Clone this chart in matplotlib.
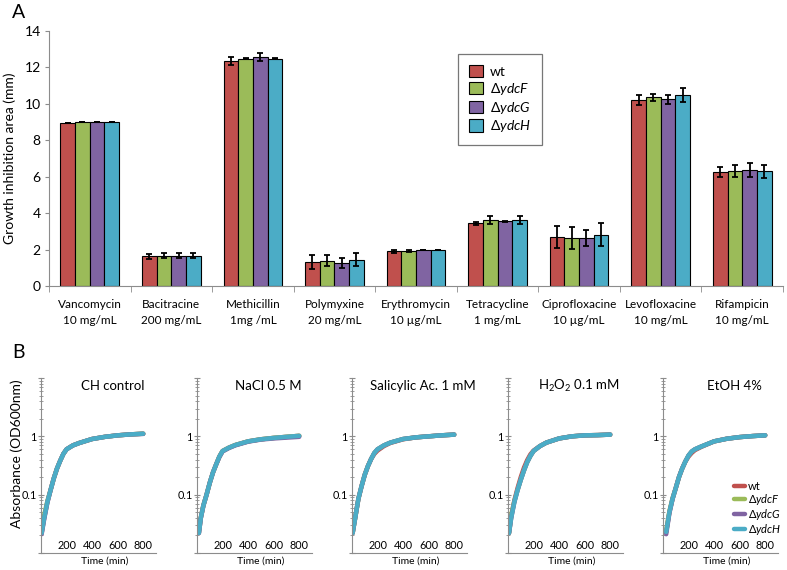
import numpy as np
import matplotlib
matplotlib.use('Agg')
import matplotlib.pyplot as plt

plt.rcParams['font.family'] = ['Lato', 'DejaVu Sans']
plt.rcParams['mathtext.fontset'] = 'custom'
plt.rcParams['mathtext.rm'] = 'Lato'
plt.rcParams['mathtext.it'] = 'Lato:italic'

# panel A data
antibiotics = ['Vancomycin\n10 mg/mL', 'Bacitracine\n200 mg/mL', 'Methicillin\n1mg /mL',
               'Polymyxine\n20 mg/mL', 'Erythromycin\n10 µg/mL', 'Tetracycline\n1 mg/mL',
               'Ciprofloxacine\n10 µg/mL', 'Levofloxacine\n10 mg/mL', 'Rifampicin\n10 mg/mL']
strains = ['wt', 'ΔydcF', 'ΔydcG', 'ΔydcH']
wt = [8.95, 1.62, 12.35, 1.30, 1.90, 3.44, 2.70, 10.22, 6.25]
ydcF = [9.00, 1.66, 12.48, 1.40, 1.92, 3.63, 2.62, 10.36, 6.30]
ydcG = [9.00, 1.65, 12.58, 1.25, 2.00, 3.55, 2.62, 10.24, 6.37]
ydcH = [9.00, 1.66, 12.48, 1.45, 2.00, 3.63, 2.82, 10.48, 6.29]
wt_err = [0.02, 0.14, 0.20, 0.38, 0.10, 0.10, 0.60, 0.28, 0.27]
ydcF_err = [0.02, 0.14, 0.02, 0.30, 0.08, 0.20, 0.60, 0.18, 0.33]
ydcG_err = [0.02, 0.14, 0.22, 0.28, 0.00, 0.02, 0.45, 0.25, 0.38]
ydcH_err = [0.02, 0.14, 0.02, 0.36, 0.00, 0.20, 0.65, 0.40, 0.34]

colors = ['#C0504D', '#9BBB59', '#8064A2', '#4BACC6']

# panel B data: time (min) and OD600 per condition, per strain
conditions = ['CH control', 'NaCl 0.5 M', 'Salicylic Ac. 1 mM', 'H$_2$O$_2$ 0.1 mM', 'EtOH 4%']

ch_t = [5, 25, 50, 75, 100, 125, 150, 175, 200, 250, 300, 400, 500, 600, 700, 800]
ch_wt = [0.022, 0.040, 0.075, 0.12, 0.19, 0.28, 0.38, 0.50, 0.60, 0.70, 0.77, 0.90, 0.98, 1.04, 1.08, 1.11]
ch_F = [0.026, 0.045, 0.078, 0.12, 0.19, 0.28, 0.38, 0.50, 0.60, 0.70, 0.77, 0.90, 0.98, 1.04, 1.08, 1.11]
ch_G = [0.021, 0.038, 0.073, 0.12, 0.19, 0.28, 0.38, 0.50, 0.60, 0.70, 0.77, 0.90, 0.98, 1.04, 1.08, 1.10]
ch_H = [0.022, 0.040, 0.075, 0.12, 0.19, 0.28, 0.38, 0.50, 0.60, 0.70, 0.77, 0.90, 0.98, 1.04, 1.08, 1.11]

na_t = [15, 30, 50, 75, 100, 125, 150, 175, 200, 250, 300, 400, 500, 600, 700, 800]
na_wt = [0.022, 0.040, 0.065, 0.10, 0.16, 0.24, 0.33, 0.45, 0.56, 0.64, 0.71, 0.82, 0.89, 0.94, 0.98, 1.02]
na_F = [0.024, 0.041, 0.066, 0.10, 0.16, 0.24, 0.33, 0.45, 0.56, 0.64, 0.71, 0.82, 0.89, 0.94, 0.98, 1.02]
na_G = [0.022, 0.040, 0.065, 0.10, 0.16, 0.24, 0.33, 0.44, 0.55, 0.63, 0.70, 0.81, 0.88, 0.92, 0.95, 0.98]
na_H = [0.022, 0.040, 0.065, 0.10, 0.16, 0.24, 0.33, 0.45, 0.56, 0.64, 0.71, 0.82, 0.89, 0.94, 0.98, 1.02]

sa_t = [5, 25, 50, 75, 100, 125, 150, 175, 200, 250, 300, 400, 500, 600, 700, 800]
sa_wt = [0.022, 0.040, 0.085, 0.14, 0.22, 0.31, 0.41, 0.50, 0.57, 0.68, 0.77, 0.89, 0.96, 1.00, 1.04, 1.07]
sa_F = [0.022, 0.040, 0.085, 0.14, 0.22, 0.31, 0.41, 0.52, 0.60, 0.70, 0.78, 0.90, 0.96, 1.00, 1.04, 1.07]
sa_G = [0.022, 0.040, 0.085, 0.14, 0.22, 0.31, 0.41, 0.52, 0.60, 0.70, 0.78, 0.90, 0.96, 1.00, 1.04, 1.07]
sa_H = [0.022, 0.040, 0.085, 0.14, 0.22, 0.31, 0.41, 0.52, 0.60, 0.70, 0.78, 0.90, 0.96, 1.00, 1.04, 1.07]

h2_t = [8, 25, 50, 75, 100, 125, 150, 175, 200, 250, 300, 400, 500, 600, 700, 800]
h2_wt = [0.022, 0.042, 0.080, 0.13, 0.20, 0.29, 0.39, 0.49, 0.57, 0.68, 0.78, 0.92, 1.00, 1.04, 1.05, 1.07]
h2_F = [0.022, 0.045, 0.078, 0.12, 0.18, 0.26, 0.36, 0.46, 0.56, 0.68, 0.78, 0.92, 1.00, 1.04, 1.05, 1.07]
h2_G = [0.022, 0.040, 0.075, 0.12, 0.18, 0.26, 0.36, 0.46, 0.56, 0.68, 0.78, 0.92, 1.00, 1.04, 1.05, 1.07]
h2_H = [0.022, 0.040, 0.075, 0.12, 0.18, 0.26, 0.36, 0.46, 0.56, 0.68, 0.78, 0.92, 1.00, 1.04, 1.05, 1.07]

et_t = [25, 50, 75, 100, 125, 150, 175, 200, 225, 250, 300, 400, 500, 600, 700, 800]
et_wt = [0.023, 0.050, 0.085, 0.13, 0.20, 0.28, 0.37, 0.45, 0.52, 0.58, 0.66, 0.82, 0.91, 0.97, 1.01, 1.04]
et_F = [0.024, 0.052, 0.088, 0.13, 0.20, 0.28, 0.37, 0.47, 0.55, 0.60, 0.67, 0.82, 0.91, 0.97, 1.01, 1.04]
et_G = [0.021, 0.048, 0.085, 0.13, 0.20, 0.28, 0.37, 0.47, 0.55, 0.60, 0.67, 0.82, 0.91, 0.97, 1.01, 1.04]
et_H = [0.023, 0.050, 0.085, 0.13, 0.20, 0.28, 0.37, 0.47, 0.55, 0.60, 0.67, 0.82, 0.91, 0.97, 1.01, 1.04]

curves = [(ch_t, [ch_wt, ch_F, ch_G, ch_H]),
          (na_t, [na_wt, na_F, na_G, na_H]),
          (sa_t, [sa_wt, sa_F, sa_G, sa_H]),
          (h2_t, [h2_wt, h2_F, h2_G, h2_H]),
          (et_t, [et_wt, et_F, et_G, et_H])]

legend_labels = ['wt', r'Δ$\mathit{ydcF}$', r'Δ$\mathit{ydcG}$', r'Δ$\mathit{ydcH}$']
spine_gray = '#8c8c8c'

fig = plt.figure(figsize=(7.87, 5.70), dpi=100)

# ---- panel A ----
axA = fig.add_axes([49 / 787, 1 - 286 / 570, 734 / 787, 255 / 570])
x = np.arange(len(antibiotics))
w = 0.18
series = [wt, ydcF, ydcG, ydcH]
errs = [wt_err, ydcF_err, ydcG_err, ydcH_err]
for i, (vals, err) in enumerate(zip(series, errs)):
    pos = x + (i - 1.5) * w
    axA.bar(pos, vals, w, color=colors[i], edgecolor='black', linewidth=0.8,
            label=legend_labels[i], zorder=2)
    axA.errorbar(pos, vals, yerr=err, fmt='none', ecolor='black', elinewidth=1.3,
                 capsize=2.5, capthick=1.3, zorder=3)

axA.set_xlim(-0.5, len(antibiotics) - 0.5)
axA.set_ylim(0, 14)
axA.set_yticks(range(0, 15, 2))
axA.set_xticks(x)
axA.set_xticklabels(antibiotics, fontsize=8.5, linespacing=1.6)
axA.set_xticks(np.arange(-0.5, len(antibiotics)), minor=True)
axA.tick_params(axis='x', which='major', length=0, pad=9)
axA.tick_params(axis='x', which='minor', length=4, color=spine_gray, direction='out')
axA.tick_params(axis='y', length=3, color=spine_gray, labelsize=10, pad=3)
for s in ['top', 'right']:
    axA.spines[s].set_visible(False)
for s in ['left', 'bottom']:
    axA.spines[s].set_color(spine_gray)
axA.set_ylabel('Growth inhibition area (mm)', fontsize=10, labelpad=6)
leg = axA.legend(loc='upper left', bbox_to_anchor=(0.557, 0.91), fontsize=10,
                 fancybox=False, edgecolor='#555555', handlelength=1.0, handleheight=1.0,
                 labelspacing=0.2, borderpad=0.8, handletextpad=0.5, borderaxespad=0)
leg.get_frame().set_linewidth(0.9)

fig.text(12 / 787, 1 - 12 / 570, 'A', fontsize=14, va='center', ha='left')
fig.text(12 / 787, 1 - 352 / 570, 'B', fontsize=14, va='center', ha='left')

# ---- panel B ----
lefts = [41, 197, 352, 508, 663]
for k, (title, (t, ods)) in enumerate(zip(conditions, curves)):
    ax = fig.add_axes([lefts[k] / 787, 1 - 553 / 570, 115 / 787, 175 / 570])
    for i, od in enumerate(ods):
        ax.plot(t, od, color=colors[i], linewidth=3.2, solid_capstyle='round',
                label=legend_labels[i])
    ax.set_yscale('log')
    ax.set_ylim(0.01, 10)
    ax.set_xlim(0, 900)
    ax.set_yticks([0.01, 0.1, 1, 10])
    ax.set_yticklabels(['', '0.1', '1', ''])
    ax.set_xticks([200, 400, 600, 800])
    ax.tick_params(axis='x', length=0, pad=-9.5, labelsize=7.8)
    ax.tick_params(axis='y', which='major', length=4, direction='inout', color=spine_gray,
                   labelsize=7.8, pad=1)
    ax.tick_params(axis='y', which='minor', length=3, direction='inout', color=spine_gray)
    ax.yaxis.set_minor_formatter(matplotlib.ticker.NullFormatter())
    for s in ['top', 'right']:
        ax.spines[s].set_visible(False)
    for s in ['left', 'bottom']:
        ax.spines[s].set_color(spine_gray)
        ax.spines[s].set_linewidth(0.8)
    ax.set_xlabel('Time (min)', fontsize=7.5)
    ax.xaxis.set_label_coords(0.55, -0.02)
    ax.text(0.62, 0.955, title, transform=ax.transAxes, ha='center', va='center', fontsize=9.5)
    if k == 0:
        ax.set_ylabel('Absorbance (OD600nm)', fontsize=10)
        ax.yaxis.set_label_coords(-0.16, 0.57)
    if k == 4:
        ax.legend(loc='lower right', bbox_to_anchor=(1.08, 0.06), frameon=False, fontsize=8,
                  handlelength=1.0, labelspacing=0.0, handletextpad=0.3, borderpad=0)

fig.savefig('out.png', dpi=100)
